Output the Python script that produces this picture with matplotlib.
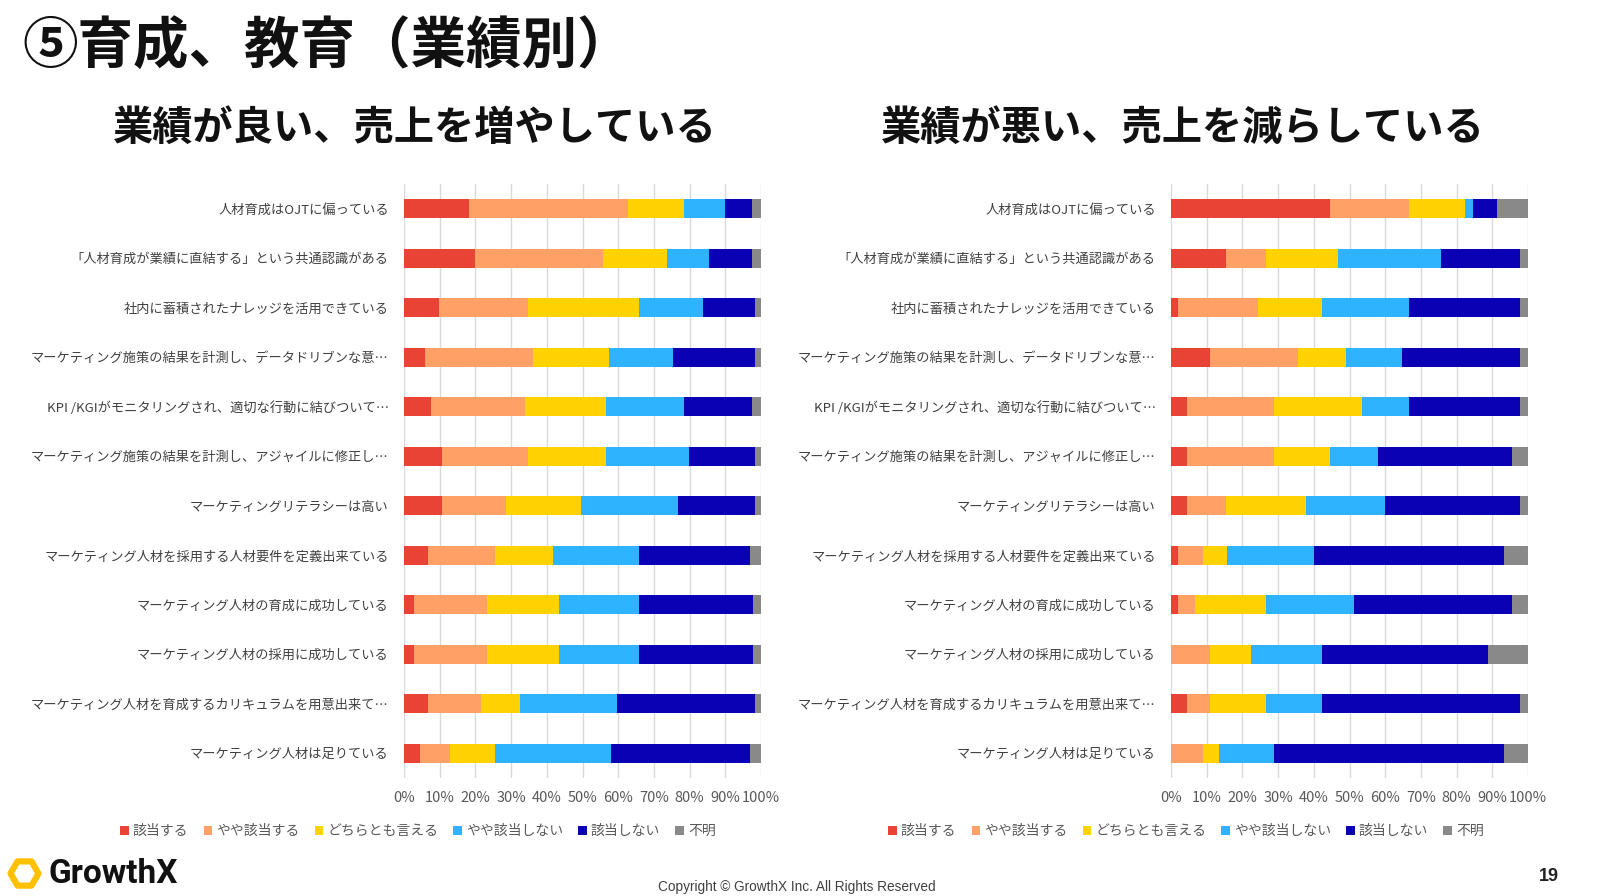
import matplotlib.pyplot as plt
import numpy as np
from matplotlib.patches import Patch, RegularPolygon

plt.rcParams['font.family'] = ['Noto Sans CJK JP', 'DejaVu Sans']

W, H = 1600, 896

categories = [
    '人材育成はOJTに偏っている',
    '「人材育成が業績に直結する」という共通認識がある',
    '社内に蓄積されたナレッジを活用できている',
    'マーケティング施策の結果を計測し、データドリブンな意…',
    'KPI /KGIがモニタリングされ、適切な行動に結びついて…',
    'マーケティング施策の結果を計測し、アジャイルに修正し…',
    'マーケティングリテラシーは高い',
    'マーケティング人材を採用する人材要件を定義出来ている',
    'マーケティング人材の育成に成功している',
    'マーケティング人材の採用に成功している',
    'マーケティング人材を育成するカリキュラムを用意出来て…',
    'マーケティング人材は足りている',
]
answers = ['該当する', 'やや該当する', 'どちらとも言える', 'やや該当しない', '該当しない', '不明']
colors = ['#E94335', '#FFA066', '#FFD200', '#2DB3FF', '#0A00B4', '#898989']

# 業績が良い、売上を増やしている
gaitou_L = [18.3, 20.0, 9.9, 6.0, 7.6, 10.7, 10.7, 6.7, 2.8, 2.8, 6.7, 4.4]
yaya_L = [44.4, 35.7, 24.8, 30.2, 26.4, 24.0, 17.8, 18.7, 20.4, 20.4, 14.8, 8.6]
dochira_L = [15.6, 17.9, 31.2, 21.1, 22.6, 21.9, 21.1, 16.4, 20.1, 20.1, 11.0, 12.5]
yayanai_L = [11.6, 11.7, 17.9, 18.0, 21.7, 23.3, 27.2, 24.1, 22.6, 22.6, 27.1, 32.6]
nai_L = [7.7, 12.3, 14.6, 23.1, 19.3, 18.5, 21.6, 31.0, 31.8, 31.8, 38.8, 38.8]
fumei_L = [2.4, 2.4, 1.6, 1.6, 2.4, 1.6, 1.6, 3.1, 2.3, 2.3, 1.6, 3.1]

# 業績が悪い、売上を減らしている
gaitou_R = [44.4, 15.5, 2.1, 11.0, 4.4, 4.4, 4.4, 2.1, 2.1, 0.0, 4.4, 0.0]
yaya_R = [22.2, 11.1, 22.2, 24.5, 24.4, 24.5, 11.0, 6.8, 4.5, 11.0, 6.6, 8.9]
dochira_R = [15.7, 20.1, 18.0, 13.4, 24.6, 15.6, 22.3, 6.8, 20.1, 11.3, 15.7, 4.5]
yayanai_R = [2.3, 29.0, 24.5, 15.7, 13.4, 13.4, 22.3, 24.4, 24.5, 20.0, 15.6, 15.5]
nai_R = [6.6, 22.1, 31.0, 33.2, 31.0, 37.6, 37.8, 53.3, 44.3, 46.6, 55.5, 64.5]
fumei_R = [8.9, 2.2, 2.2, 2.2, 2.2, 4.5, 2.2, 6.6, 4.5, 11.1, 2.2, 6.6]

x_ticks = list(range(0, 101, 10))
x_labels = [f'{t}%' for t in x_ticks]


def px_axes(fig, x0, y0, x1, y1):
    # pixel box (top-left origin) -> figure axes
    return fig.add_axes([x0 / W, 1 - y1 / H, (x1 - x0) / W, (y1 - y0) / H])


def draw_panel(ax, series):
    y = np.arange(len(categories))
    left = np.zeros(len(categories))
    for vals, c in zip(series, colors):
        vals = np.array(vals)
        ax.barh(y, vals, left=left, height=0.39, color=c, edgecolor='none', zorder=3)
        left += vals
    ax.set_xlim(0, 100)
    ax.set_ylim(len(categories) - 0.5, -0.5)
    ax.set_yticks(y)
    ax.set_yticklabels(categories, fontsize=9.5, color='#404040')
    ax.set_xticks(x_ticks)
    ax.set_xticklabels(x_labels, fontsize=10.5, color='#595959')
    ax.tick_params(axis='y', length=0, pad=11)
    ax.tick_params(axis='x', length=0, pad=9)
    ax.grid(axis='x', color='#d9d9d9', linewidth=1, zorder=0)
    for s in ax.spines.values():
        s.set_visible(False)


fig = plt.figure(figsize=(W / 100, H / 100), dpi=100)

ax1 = px_axes(fig, 404, 184, 761, 778)
draw_panel(ax1, [gaitou_L, yaya_L, dochira_L, yayanai_L, nai_L, fumei_L])
ax2 = px_axes(fig, 1171, 184, 1528, 778)
draw_panel(ax2, [gaitou_R, yaya_R, dochira_R, yayanai_R, nai_R, fumei_R])

fig.text(22 / W, 1 - 47 / H, '⑤育成、教育（業績別）', fontsize=40, fontweight='bold',
         va='center', ha='left', color='#111111')
fig.text(415 / W, 1 - 128 / H, '業績が良い、売上を増やしている', fontsize=29, fontweight='bold',
         va='center', ha='center', color='#111111')
fig.text(1183 / W, 1 - 128 / H, '業績が悪い、売上を減らしている', fontsize=29, fontweight='bold',
         va='center', ha='center', color='#111111')

handles = [Patch(facecolor=c, edgecolor='none') for c in colors]
for cx in (418, 1186):
    fig.legend(handles, answers, loc='center', bbox_to_anchor=(cx / W, 1 - 831 / H),
               ncol=6, frameon=False, fontsize=10, handlelength=0.6, handleheight=0.6,
               handletextpad=0.3, columnspacing=1.1, labelcolor='#595959')

# logo
logo = RegularPolygon((0.245, 0.225), numVertices=6, radius=0.14,
                      orientation=np.pi / 6, transform=fig.dpi_scale_trans,
                      facecolor='white', edgecolor='#FFC000', linewidth=4.5,
                      joinstyle='round')
fig.patches.append(logo)
fig.text(48 / W, 1 - 874 / H, 'GrowthX', fontsize=24, fontweight='bold',
         va='center', ha='left', color='#111111', family=['Roboto', 'DejaVu Sans'])
fig.text(797 / W, 1 - 887 / H, 'Copyright © GrowthX Inc. All Rights Reserved', fontsize=9.8,
         va='center', ha='center', color='#404040', family=['Liberation Sans', 'DejaVu Sans'])
fig.text(1549 / W, 1 - 876 / H, '19', fontsize=13, fontweight='bold',
         va='center', ha='center', color='#222222', family=['Liberation Sans', 'DejaVu Sans'])

fig.savefig('out.png', dpi=100)
